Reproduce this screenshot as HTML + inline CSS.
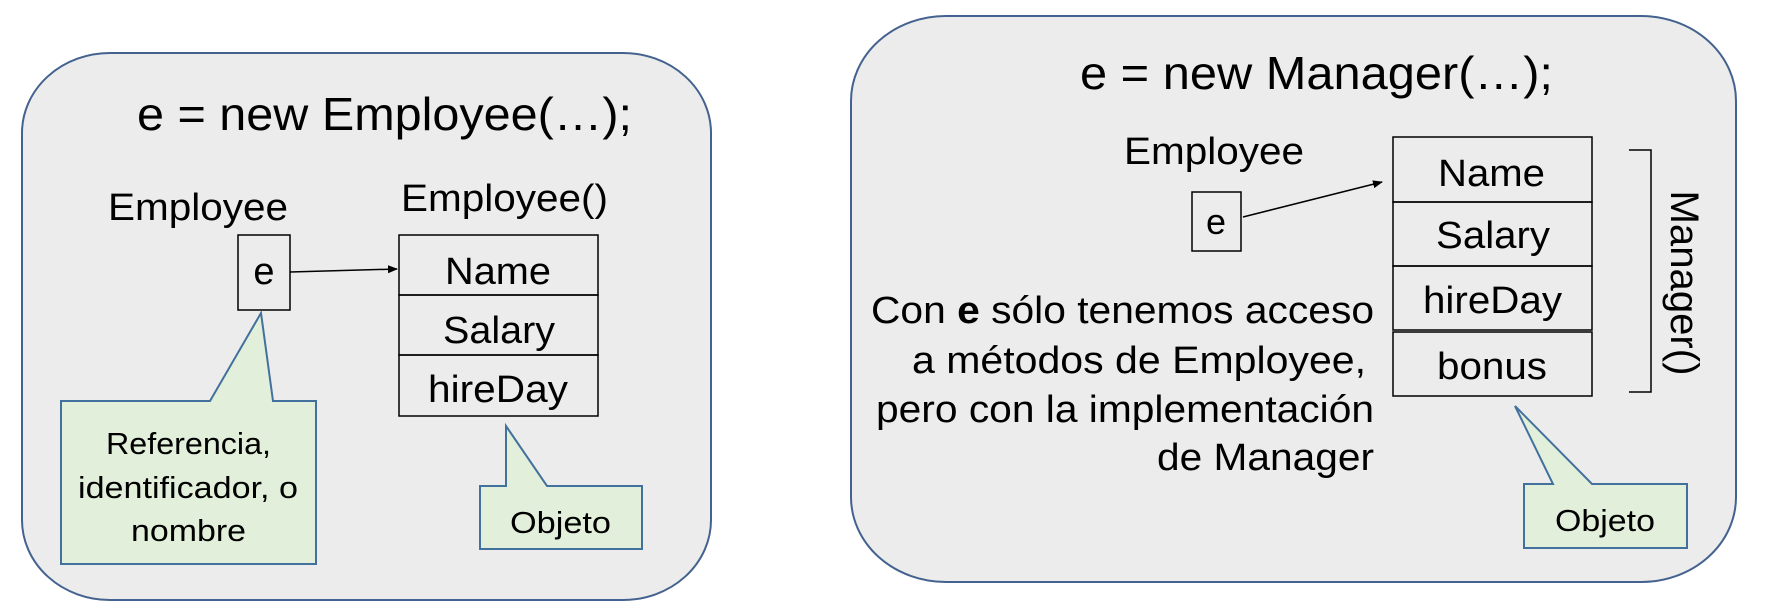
<!DOCTYPE html>
<html><head><meta charset="utf-8"><style>
html,body{margin:0;padding:0;background:#fff;width:1787px;height:607px;overflow:hidden}
svg{display:block}
text{font-family:"Liberation Sans",sans-serif;fill:#000}
</style></head><body>
<svg width="1787" height="607" viewBox="0 0 1787 607" xmlns="http://www.w3.org/2000/svg">
<defs><marker id="ah" markerWidth="10" markerHeight="10" refX="9" refY="5" orient="auto" markerUnits="userSpaceOnUse"><path d="M0,1 L10,5 L0,9 z" fill="#000"/></marker></defs>
<!-- Left panel -->
<rect x="22" y="53" width="689" height="547" rx="88" ry="80" fill="#ececec" stroke="#44628f" stroke-width="2"/>
<text x="137" y="130" font-size="46" textLength="495" lengthAdjust="spacingAndGlyphs">e = new Employee(…);</text>
<text x="108" y="220" font-size="38" textLength="180" lengthAdjust="spacingAndGlyphs">Employee</text>
<text x="401" y="211" font-size="38" textLength="207" lengthAdjust="spacingAndGlyphs">Employee()</text>
<rect x="238" y="235" width="52" height="75" fill="none" stroke="#000" stroke-width="1.5"/>
<text x="264" y="284" font-size="38" text-anchor="middle">e</text>
<line x1="290" y1="272" x2="397" y2="269" stroke="#000" stroke-width="1.5" marker-end="url(#ah)"/>
<rect x="399" y="235" width="199" height="60" fill="none" stroke="#000" stroke-width="1.5"/>
<rect x="399" y="295" width="199" height="60" fill="none" stroke="#000" stroke-width="1.5"/>
<rect x="399" y="355" width="199" height="61" fill="none" stroke="#000" stroke-width="1.5"/>
<text x="445" y="284" font-size="38" textLength="106" lengthAdjust="spacingAndGlyphs">Name</text>
<text x="443" y="343" font-size="38" textLength="112" lengthAdjust="spacingAndGlyphs">Salary</text>
<text x="428" y="402" font-size="38" textLength="140" lengthAdjust="spacingAndGlyphs">hireDay</text>
<path d="M61,401 L210,401 L261,313 L273,401 L316,401 L316,564 L61,564 Z" fill="#e2efda" stroke="#41719c" stroke-width="2"/>
<text x="106" y="454" font-size="31" textLength="165" lengthAdjust="spacingAndGlyphs">Referencia,</text>
<text x="78" y="498" font-size="31" textLength="220" lengthAdjust="spacingAndGlyphs">identificador, o</text>
<text x="131" y="541" font-size="31" textLength="115" lengthAdjust="spacingAndGlyphs">nombre</text>
<path d="M480,486 L506,486 L506,426 L547,486 L642,486 L642,549 L480,549 Z" fill="#e2efda" stroke="#41719c" stroke-width="2"/>
<text x="510" y="533" font-size="31" textLength="101" lengthAdjust="spacingAndGlyphs">Objeto</text>
<!-- Right panel -->
<rect x="851" y="16" width="885" height="566" rx="95" ry="85" fill="#ececec" stroke="#44628f" stroke-width="2"/>
<text x="1080" y="89" font-size="46" textLength="473" lengthAdjust="spacingAndGlyphs">e = new Manager(…);</text>
<text x="1124" y="164" font-size="38" textLength="180" lengthAdjust="spacingAndGlyphs">Employee</text>
<rect x="1192" y="192" width="49" height="59" fill="none" stroke="#000" stroke-width="1.5"/>
<text x="1216" y="234" font-size="36" text-anchor="middle">e</text>
<line x1="1243" y1="217" x2="1382" y2="182" stroke="#000" stroke-width="1.5" marker-end="url(#ah)"/>
<rect x="1393" y="137" width="199" height="65" fill="none" stroke="#000" stroke-width="1.5"/>
<rect x="1393" y="202" width="199" height="64" fill="none" stroke="#000" stroke-width="1.5"/>
<rect x="1393" y="266" width="199" height="64" fill="none" stroke="#000" stroke-width="1.5"/>
<rect x="1393" y="332" width="199" height="64" fill="none" stroke="#000" stroke-width="1.5"/>
<text x="1438" y="186" font-size="38" textLength="107" lengthAdjust="spacingAndGlyphs">Name</text>
<text x="1436" y="248" font-size="38" textLength="114" lengthAdjust="spacingAndGlyphs">Salary</text>
<text x="1423" y="313" font-size="38" textLength="139" lengthAdjust="spacingAndGlyphs">hireDay</text>
<text x="1437" y="379" font-size="38" textLength="110" lengthAdjust="spacingAndGlyphs">bonus</text>
<path d="M1629,150 L1651,150 L1651,392 L1629,392" fill="none" stroke="#000" stroke-width="1.5"/>
<text transform="translate(1671,283) rotate(90)" font-size="40" text-anchor="middle" textLength="185" lengthAdjust="spacingAndGlyphs">Manager()</text>
<text x="871" y="323" font-size="38" textLength="503" lengthAdjust="spacingAndGlyphs">Con <tspan font-weight="bold">e</tspan> sólo tenemos acceso</text>
<text x="912" y="373" font-size="38" textLength="454" lengthAdjust="spacingAndGlyphs">a métodos de Employee,</text>
<text x="876" y="422" font-size="38" textLength="498" lengthAdjust="spacingAndGlyphs">pero con la implementación</text>
<text x="1157" y="470" font-size="38" textLength="217" lengthAdjust="spacingAndGlyphs">de Manager</text>
<path d="M1524,484 L1553,484 L1515,406 L1592,484 L1687,484 L1687,548 L1524,548 Z" fill="#e2efda" stroke="#41719c" stroke-width="2"/>
<text x="1555" y="531" font-size="31" textLength="100" lengthAdjust="spacingAndGlyphs">Objeto</text>
</svg>
</body></html>
